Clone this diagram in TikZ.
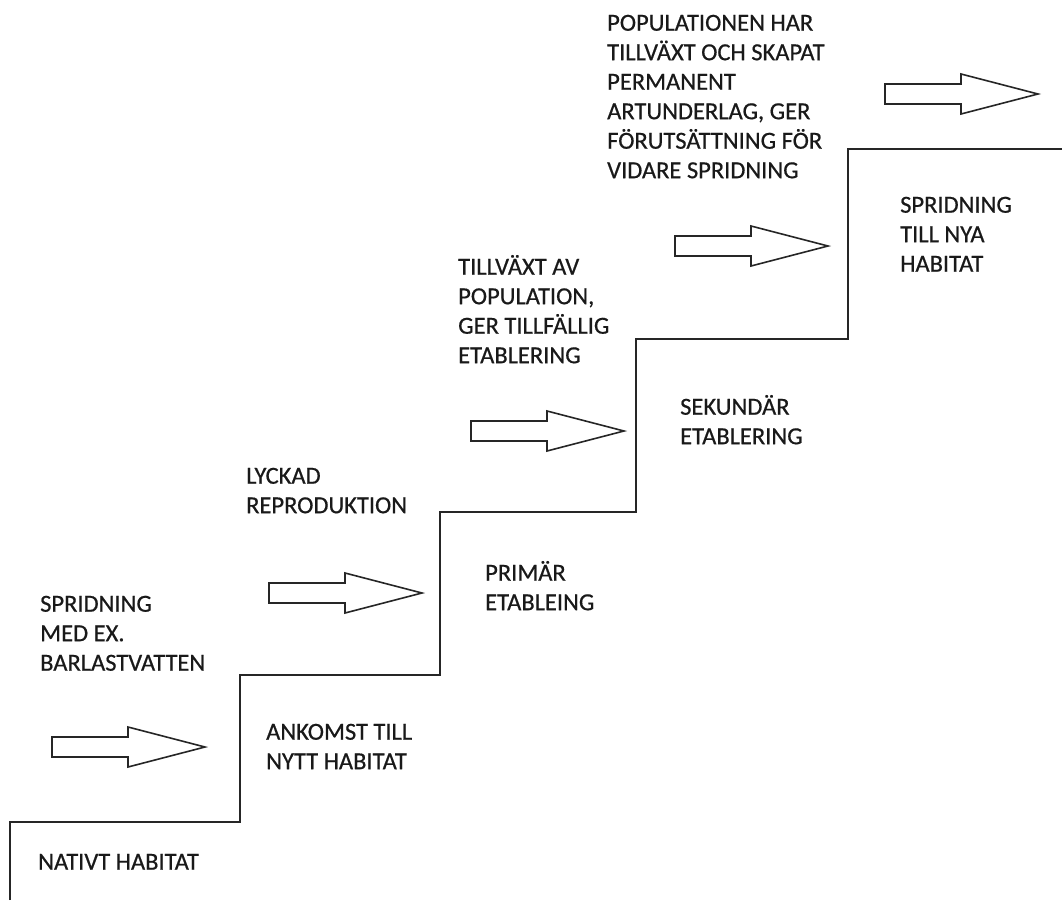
\documentclass[tikz,border=0pt]{standalone}
\usepackage{fontspec}
\setmainfont[FakeBold=0.6]{Carlito}
\begin{document}
\begin{tikzpicture}[x=1pt,y=-1pt,
  stair/.style={draw=black!85,line width=2pt,line join=miter},
  arrowline/.style={draw=black!85,line width=1.6pt,fill=white,line join=miter},
  lbl/.style={anchor=north west,inner sep=0pt,align=left,
    font=\fontsize{24.5}{29.5}\selectfont,text=black!90},
  bigarrow/.pic={\draw[arrowline] (0,-10) -- (76,-10) -- (76,-20) -- (153,0) -- (76,20) -- (76,10) -- (0,10) -- cycle;}
]
\useasboundingbox (0,0) rectangle (1062,900);
\newcommand{\fl}{\rule{0pt}{20.5pt}}
% staircase
\coordinate (s0) at (10,900);
\coordinate (s1) at (10,822);
\coordinate (s2) at (240,822);
\coordinate (s3) at (240,675);
\coordinate (s4) at (440,675);
\coordinate (s5) at (440,512);
\coordinate (s6) at (636,512);
\coordinate (s7) at (636,339);
\coordinate (s8) at (848,339);
\coordinate (s9) at (848,149);
\coordinate (s10) at (1063,149);
\draw[stair] (s0) -- (s1) -- (s2) -- (s3) -- (s4) -- (s5) -- (s6) -- (s7) -- (s8) -- (s9) -- (s10);
% arrows
\pic at (52,747) {bigarrow};
\pic at (269,593) {bigarrow};
\pic at (471,431) {bigarrow};
\pic at (675,246) {bigarrow};
\pic at (885,94) {bigarrow};
% labels
\node[lbl] (nativt) at (38,849) {\fl NATIVT HABITAT};
\node[lbl] (ankomst) at (266,719) {\fl ANKOMST TILL\\NYTT HABITAT};
\node[lbl] (sprid1) at (40,591) {\fl SPRIDNING\\MED EX.\\BARLASTVATTEN};
\node[lbl] (lyckad) at (246,463) {\fl LYCKAD\\REPRODUKTION};
\node[lbl] (primar) at (485,560) {\fl PRIMÄR\\ETABLEING};
\node[lbl] (tillv) at (458,254) {\fl TILLVÄXT AV\\POPULATION,\\GER TILLFÄLLIG\\ETABLERING};
\node[lbl] (sekund) at (680,394) {\fl SEKUNDÄR\\ETABLERING};
\node[lbl] (popul) at (607,10) {\fl POPULATIONEN HAR\\TILLVÄXT OCH SKAPAT\\PERMANENT\\ARTUNDERLAG, GER\\FÖRUTSÄTTNING FÖR\\VIDARE SPRIDNING};
\node[lbl] (sprid2) at (900,192) {\fl SPRIDNING\\TILL NYA\\HABITAT};
\end{tikzpicture}
\end{document}
